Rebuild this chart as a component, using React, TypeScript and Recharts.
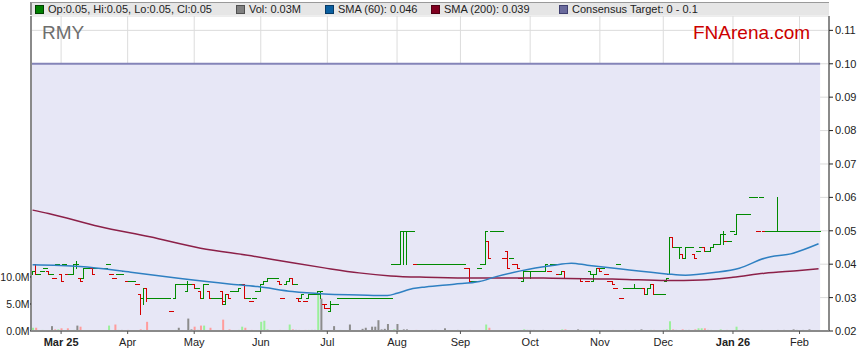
import React from 'react';
import {
  ComposedChart,
  XAxis,
  YAxis,
  CartesianGrid,
  Bar,
  Line,
  ReferenceArea,
  ReferenceLine,
  Cell,
} from 'recharts';

// one entry per trading day (18 Feb 2025 .. 11 Feb 2026)
// a single number = open/high/low/close all equal, else [open, high, low, close]
type Ohlc = number | [number, number, number, number];

const priceBars: Ohlc[] = [
  [.037, .038, .037, .038], [.040, .040, .037, .037], .037, .038, .039, [.038, .038, .037, .037], .037, .036, .040, [.037, .037, .035, .035],
  .040, .037, .037, [.037, .040, .037, .040], [.040, .041, .039, .040], [.036, .036, .035, .035], [.036, .039, .036, .039], .039, .039, [.039, .039, .037, .037],
  .039, .039, .039, .039, .040, .037, .036, .037, .037, .038,
  .035, .035, .035, .034, [.031, .031, .025, .030], [.030, .033, .028, .033], [.033, .033, .029, .030], .030, .030, .030,
  .030, .030, .030, .030, .026, [.030, .034, .030, .034], .034, .034, .034, [.032, .035, .032, .034],
  .034, [.034, .034, .033, .033], .033, [.032, .032, .030, .030], [.030, .034, .030, .034], .034, [.032, .032, .030, .030], .030, .030, .030,
  [.032, .032, .028, .029], [.028, .031, .028, .031], [.031, .031, .030, .030], .032, .032, [.032, .033, .032, .033], .034, [.034, .034, .030, .030], .030, .029,
  .030, .032, [.032, .034, .032, .034], [.034, .035, .034, .035], [.035, .036, .035, .036], .036, .036, .036, [.035, .035, .034, .034], .030,
  [.034, .035, .034, .035], [.035, .036, .035, .036], [.036, .036, .034, .034], .034, [.030, .030, .029, .029], [.030, .031, .030, .031], .029, [.030, .031, .030, .031], .031, .031,
  [.031, .032, .031, .032], [.031, .032, .030, .032], [.028, .028, .027, .028], .027, [.026, .029, .026, .028], .028, .028, .030, .030, .030,
  .030, .030, .030, .030, .030, .030, .030, .030, .030, .030,
  .030, .030, .030, .030, .040, .040, [.040, .050, .040, .050], [.050, .050, .040, .050], [.050, .050, .040, .050], .050,
  .050, .040, .040, .040, .040, .040, .040, .040, .040, .040,
  .040, .040, .040, .040, .040, .040, .040, .039, [.039, .039, .035, .035], .035,
  .035, .039, .040, [.040, .050, .040, .050], [.047, .047, .042, .042], .050, .050, .050, .050, .042,
  [.044, .044, .039, .039], .042, .040, [.040, .040, .039, .039], .036, [.035, .038, .035, .038], .038, [.038, .038, .036, .038], .038, .038,
  .038, .038, [.038, .040, .038, .040], .038, .040, .040, .037, [.037, .038, .037, .038], [.038, .038, .036, .036], .036,
  .036, .036, .036, [.036, .036, .035, .035], .036, .035, [.038, .038, .037, .037], [.035, .037, .035, .037], [.037, .039, .037, .039], [.039, .039, .038, .038],
  .039, .037, .035, [.035, .035, .034, .034], .033, .040, .030, .033, .033, .033,
  [.033, .034, .033, .033], .033, .033, [.033, .033, .031, .031], [.031, .033, .031, .033], [.033, .034, .033, .034], [.034, .034, .031, .031], .031, .031, .031,
  [.035, .036, .035, .036], [.037, .048, .037, .048], [.048, .048, .045, .045], .045, [.045, .045, .042, .045], [.043, .043, .042, .042], [.042, .045, .042, .045], .045, .045, [.043, .043, .042, .042],
  .044, .045, [.045, .045, .044, .044], .044, [.044, .045, .044, .045], [.045, .046, .045, .046], .046, [.046, .049, .046, .049], [.049, .050, .046, .049], .047,
  .047, .050, [.049, .055, .049, .055], .055, .055, .055, .055, .060, .060, .050,
  .060, .050, .050, .050, .050, [.050, .060, .050, .050], .050, .050, .050, .050,
  .050, .050, .050, .050, .050, .050, .050, .050, .050,
];

// volume in millions of shares: [day, volume]
const volumes: [number, number][] = [
  [0, 0.6], [1, 0.6], [3, 0.2], [6, 0.9], [7, 0.3], [8, 0.3], [9, 0.5], [11, 0.5], [13, 0.2], [14, 1.0],
  [15, 0.8], [24, 1.0], [26, 1.2], [27, 0.2], [28, 0.2], [30, 0.2], [34, 0.3], [35, 0.2], [36, 1.7], [45, 0.2],
  [46, 0.6], [49, 2.3], [50, 0.3], [51, 0.8], [52, 0.2], [53, 1.0], [54, 1.0], [56, 0.6], [60, 2.1], [62, 0.3],
  [65, 0.2], [66, 0.8], [67, 0.6], [69, 0.2], [72, 1.7], [73, 1.9], [74, 0.3], [78, 0.2], [81, 1.2], [82, 0.3],
  [83, 0.2], [84, 0.2], [86, 0.2], [87, 0.2], [88, 0.2], [89, 0.2], [90, 7.0], [91, 6.0], [95, 0.9], [97, 0.2],
  [100, 1.2], [104, 0.4], [105, 0.6], [107, 0.8], [108, 0.8], [109, 2.0], [110, 0.3], [111, 0.4], [112, 1.3], [114, 0.3],
  [115, 1.3], [116, 0.2], [117, 0.3], [118, 0.3], [121, 0.2], [126, 0.2], [127, 0.2], [130, 0.5], [134, 0.2], [138, 0.2],
  [143, 1.2], [144, 0.6], [155, 0.3], [156, 0.2], [157, 0.2], [158, 0.2], [161, 0.2], [167, 0.3], [168, 0.3], [172, 0.3],
  [173, 0.2], [177, 0.2], [178, 0.2], [183, 0.2], [187, 0.2], [190, 0.2], [192, 0.3], [195, 0.2], [196, 0.2], [199, 0.2],
  [200, 0.3], [201, 1.8], [202, 0.3], [203, 0.2], [205, 0.3], [206, 0.2], [207, 0.2], [209, 0.3], [210, 0.5], [211, 0.5],
  [212, 0.5], [213, 0.2], [214, 0.2], [217, 0.3], [219, 0.2], [222, 0.8], [224, 0.2], [230, 0.2], [235, 0.2], [237, 0.2],
  [240, 0.3], [241, 0.2], [243, 0.2], [245, 0.3], [248, 0.03],
];

// moving averages: [day, value]
const sma60: [number, number][] = [
  [0, 0.0398], [15, 0.0393], [31, 0.0376], [46, 0.0358], [62, 0.0341], [71, 0.0333], [82, 0.0318], [92, 0.0311],
  [103, 0.0308], [112, 0.0306], [115, 0.0313], [120, 0.0327], [124, 0.0332], [133, 0.034], [141, 0.0348], [146, 0.0362],
  [154, 0.038], [164, 0.0396], [170, 0.0403], [175, 0.0397], [185, 0.0386], [200, 0.0371], [206, 0.0367], [215, 0.0375],
  [223, 0.0388], [231, 0.0418], [240, 0.0433], [248, 0.0461],
];
const sma200: [number, number][] = [
  [0, 0.0562], [5, 0.0552], [21, 0.0513], [37, 0.0482], [53, 0.0448], [69, 0.0425], [82, 0.0404], [92, 0.0389],
  [103, 0.0374], [113, 0.0365], [124, 0.0361], [137, 0.0359], [154, 0.0359], [164, 0.0358], [179, 0.0356], [185, 0.0355],
  [200, 0.0351], [211, 0.0353], [221, 0.0361], [231, 0.0373], [242, 0.0381], [248, 0.0386],
];

const monthTicks = [9, 30, 51, 72, 93, 115, 135, 157, 179, 199, 221, 242];
const monthLabels = ['Mar 25', 'Apr', 'May', 'Jun', 'Jul', 'Aug', 'Sep', 'Oct', 'Nov', 'Dec', 'Jan 26', 'Feb'];
const priceTicks = [0.02, 0.03, 0.04, 0.05, 0.06, 0.07, 0.08, 0.09, 0.1, 0.11];
const volumeTicks = [0, 5, 10];
const consensusTarget = [0, 0.1];

const legendItems = [
  { left: 35, color: '#008000', border: '#004000', text: 'Op:0.05, Hi:0.05, Lo:0.05, Cl:0.05' },
  { left: 236, color: '#808080', border: '#505050', text: 'Vol: 0.03M' },
  { left: 325, color: '#0a5fa0', border: '#063a66', text: 'SMA (60): 0.046' },
  { left: 431, color: '#800020', border: '#500014', text: 'SMA (200): 0.039' },
  { left: 559, color: '#6a6a9c', border: '#404070', text: 'Consensus Target: 0 - 0.1' },
];

const closeOf = (b: Ohlc) => (typeof b === 'number' ? b : b[3]);
const volMap = new Map(volumes);
const sma60Map = new Map(sma60);
const sma200Map = new Map(sma200);

const rows = priceBars.map((b, i) => {
  const [open, high, low, close] = typeof b === 'number' ? [b, b, b, b] : b;
  const prev = i > 0 ? closeOf(priceBars[i - 1]) : open;
  return {
    i,
    open,
    high,
    low,
    close,
    range: [low, high],
    dir: close > prev ? 1 : close < prev ? -1 : 0,
    vol: volMap.get(i) ?? 0,
    sma60: sma60Map.get(i) ?? null,
    sma200: sma200Map.get(i) ?? null,
  };
});

const lastDay = rows.length - 1;
const xDomain = [-0.5, 251.3];

const barColor = (d: any) => (d && d.dir < 0 ? '#d40000' : '#008a00');
const volColor = (d: any) => (d.dir > 0 ? '#9af09a' : d.dir < 0 ? '#ff9c9c' : '#8c8c8c');

// one OHLC glyph drawn with whole-pixel rects: high-low stem, open tick left, close tick right
const OhlcShape = (props: any) => {
  const { x, y, width, height, payload } = props;
  if (!payload || x == null || !isFinite(y)) return <g />;
  const { open, high, low, close } = payload;
  const h = isFinite(height) ? height : 0;
  const top = Math.min(y, y + h);
  const span = Math.abs(h);
  const toY = (v: number) => Math.round(high > low ? top + ((high - v) / (high - low)) * span : top);
  const col = Math.round(x + width / 2 - 0.5);
  const c = barColor(payload);
  const yTop = Math.round(top);
  const yBot = Math.round(top + span);
  return (
    <g>
      {high > low && <rect x={col} y={yTop} width={1} height={yBot - yTop + 1} fill={c} />}
      <rect x={col - 2} y={toY(open)} width={3} height={1} fill={c} />
      <rect x={col} y={toY(close)} width={3} height={1} fill={c} />
    </g>
  );
};

const MonthTick = (props: any) => {
  const { x, y, payload } = props;
  const label = monthLabels[monthTicks.indexOf(payload.value)] ?? '';
  const bold = /\d/.test(label);
  return (
    <text x={x} y={y} dy={10} textAnchor="middle" fontSize={11} fontWeight={bold ? 700 : 400} fill="#222">
      {label}
    </text>
  );
};

export default function App() {
  return (
    <div
      style={{
        position: 'relative',
        width: 859,
        height: 363,
        background: '#fff',
        fontFamily: '"Liberation Sans", Arial, sans-serif',
      }}
    >
      <style>{'body{margin:0}'}</style>
      <ComposedChart width={859} height={363} data={rows} margin={{ top: 16, right: 0, bottom: 10, left: 0 }}>
        <CartesianGrid xAxisId="m" yAxisId="p" stroke="#dcdcdc" />
        <ReferenceArea
          xAxisId="m"
          yAxisId="p"
          x1={-0.5}
          x2={lastDay + 0.5}
          y1={consensusTarget[0]}
          y2={consensusTarget[1]}
          fill="#e7e7f6"
          fillOpacity={1}
          stroke="none"
          ifOverflow="hidden"
        />
        <ReferenceLine
          xAxisId="m"
          yAxisId="p"
          segment={[
            { x: -0.5, y: consensusTarget[1] },
            { x: lastDay + 0.5, y: consensusTarget[1] },
          ]}
          stroke="#8484b8"
          strokeWidth={2}
        />
        <XAxis
          xAxisId="m"
          type="number"
          dataKey="i"
          domain={xDomain}
          allowDataOverflow
          ticks={monthTicks}
          tick={<MonthTick />}
          tickSize={3}
          tickMargin={2}
          height={22}
          axisLine={{ stroke: '#8a8a8a', strokeWidth: 2 }}
          tickLine={{ stroke: '#555' }}
        />
        <XAxis xAxisId="v" type="number" dataKey="i" domain={xDomain} allowDataOverflow hide />
        <YAxis
          yAxisId="vol"
          orientation="left"
          width={31}
          domain={[0, 58.3]}
          allowDataOverflow
          ticks={volumeTicks}
          tickFormatter={(v: number) => `${v.toFixed(1)}M`}
          tick={{ fontSize: 10.5, fill: '#222' }}
          tickSize={1}
          tickMargin={0.5}
          axisLine={{ stroke: '#8a8a8a', strokeWidth: 2 }}
          tickLine={{ stroke: '#222' }}
        />
        <YAxis
          yAxisId="p"
          orientation="right"
          width={30}
          domain={[0.02, 0.1143]}
          allowDataOverflow
          ticks={priceTicks}
          tickFormatter={(v: number) => v.toFixed(2)}
          tick={{ fontSize: 11, fill: '#222' }}
          tickSize={4}
          tickMargin={2}
          axisLine={{ stroke: '#8a8a8a', strokeWidth: 2 }}
          tickLine={{ stroke: '#222' }}
        />
        <Bar xAxisId="v" yAxisId="vol" dataKey="vol" barSize={2} isAnimationActive={false}>
          {rows.map((r) => (
            <Cell key={r.i} fill={volColor(r)} />
          ))}
        </Bar>
        <Bar xAxisId="m" yAxisId="p" dataKey="range" barSize={1} shape={OhlcShape} isAnimationActive={false} />
        <Line
          xAxisId="m"
          yAxisId="p"
          dataKey="sma200"
          type="monotone"
          connectNulls
          dot={false}
          stroke="#8c2048"
          strokeWidth={1.5}
          isAnimationActive={false}
        />
        <Line
          xAxisId="m"
          yAxisId="p"
          dataKey="sma60"
          type="monotone"
          connectNulls
          dot={false}
          stroke="#2f80c2"
          strokeWidth={1.5}
          isAnimationActive={false}
        />
      </ComposedChart>

      {/* legend strip */}
      <div
        style={{
          position: 'absolute',
          left: 30,
          top: 2,
          width: 799,
          height: 13,
          background: '#e6e6e6',
          borderTop: '1px solid #9a9a9a',
          borderLeft: '2px solid #8a8a8a',
          boxSizing: 'border-box',
        }}
      />
      {legendItems.map((it) => (
        <div
          key={it.text}
          style={{
            position: 'absolute',
            left: it.left,
            top: 2,
            height: 14,
            display: 'flex',
            alignItems: 'center',
            fontSize: 11,
            color: '#222',
            whiteSpace: 'nowrap',
          }}
        >
          <span
            style={{
              display: 'inline-block',
              width: 7,
              height: 7,
              background: it.color,
              border: `1px solid ${it.border}`,
              marginRight: 4,
            }}
          />
          {it.text}
        </div>
      ))}
      <div style={{ position: 'absolute', left: 42, top: 23, fontSize: 19, lineHeight: '19px', color: '#6e6e6e' }}>RMY</div>
      <div style={{ position: 'absolute', left: 693, top: 23, fontSize: 19, lineHeight: '19px', color: '#cc0000' }}>
        FNArena.com
      </div>
    </div>
  );
}
